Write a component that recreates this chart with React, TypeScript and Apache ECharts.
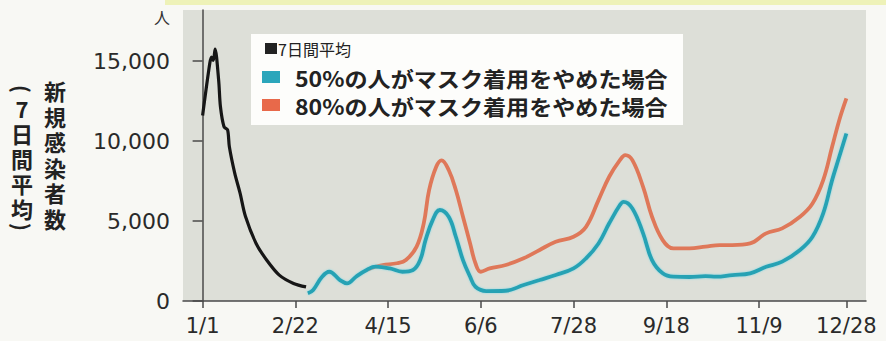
import React, { useEffect, useRef } from "react";
import * as echarts from "echarts";

// x = days since 1/1
const tickDays = [0, 52, 104, 156, 208, 260, 312, 361];
const tickLabels = ["1/1", "2/22", "4/15", "6/6", "7/28", "9/18", "11/9", "12/28"];
const yTicks = [0, 5000, 10000, 15000];

const blackDays = [0, 4, 5, 6, 7, 9, 10, 12, 14, 15, 18, 21, 24, 30, 36, 43, 51, 58];
const blackValues = [11600, 14850, 15250, 15050, 15750, 13800, 12150, 10900, 10700, 9650, 8000, 6750, 5300, 3600, 2550, 1620, 1100, 880];

const blueDays = [59, 62, 67, 71, 77, 81, 86, 92, 97, 105, 112, 118, 122, 125, 129, 133, 138, 142, 146, 150, 153, 159, 170, 180, 189, 198, 208, 215, 222, 228, 234, 236, 241, 247, 252, 258, 264, 273, 282, 288, 297, 307, 316, 325, 335, 342, 348, 353, 357, 361];
const blueValues = [480, 690, 1520, 1830, 1310, 1100, 1520, 1940, 2145, 2040, 1830, 1940, 2560, 3810, 5060, 5690, 5270, 4020, 2560, 1520, 890, 620, 640, 1000, 1310, 1625, 2040, 2670, 3600, 4860, 6000, 6200, 5790, 4230, 2560, 1730, 1520, 1500, 1560, 1520, 1625, 1730, 2140, 2460, 3190, 4020, 5480, 7560, 9020, 10480];

const orangeDays = [92, 97, 101, 109, 114, 120, 124, 127, 131, 134, 138, 142, 146, 150, 153, 156, 161, 170, 180, 189, 198, 208, 215, 222, 228, 234, 237, 241, 247, 252, 258, 264, 273, 282, 290, 297, 307, 316, 325, 335, 342, 348, 353, 357, 361];
const orangeValues = [1940, 2145, 2250, 2360, 2560, 3400, 4860, 6940, 8400, 8800, 8190, 6940, 5270, 3600, 2360, 1830, 2040, 2250, 2670, 3190, 3710, 4020, 4640, 6310, 7770, 8810, 9125, 8810, 7140, 5270, 3810, 3290, 3290, 3400, 3500, 3500, 3600, 4230, 4540, 5270, 6100, 7560, 9640, 11310, 12670];

const legendNames = ["7日間平均", "50%の人がマスク着用をやめた場合", "80%の人がマスク着用をやめた場合"];
const yTitle = ["新", "規", "感", "染", "者", "数"];
const yTitle2 = ["7", "日", "間", "平", "均"];

const pairs = (d: number[], v: number[]) => d.map((x, i) => [x, v[i]]);

const CJK = '"Noto Sans CJK JP", "Noto Sans", sans-serif';
const NUM = '"DejaVu Sans", sans-serif';

export default function App() {
  const ref = useRef<HTMLDivElement>(null);
  useEffect(() => {
    const chart = echarts.init(ref.current!, null, { renderer: "svg" });
    const titleStyle = {
      fontFamily: CJK, fontSize: 22, fontWeight: "bold", fill: "#222",
      align: "center", verticalAlign: "top", lineHeight: 25,
    };
    chart.setOption({
      animation: false,
      backgroundColor: "#f8f8f4",
      grid: {
        left: 183,
        right: 20,
        top: 10,
        bottom: 40,
        show: true,
        backgroundColor: "#dddfd8",
        borderWidth: 0,
      },
      xAxis: {
        type: "value",
        min: -11,
        max: 372,
        splitLine: { show: false },
        axisLine: { show: true, lineStyle: { color: "#4a4a4a", width: 1.5 } },
        axisTick: { show: true, length: 7, customValues: tickDays, lineStyle: { color: "#4a4a4a", width: 1.5 } },
        axisLabel: {
          customValues: tickDays,
          margin: 14,
          fontFamily: NUM,
          fontSize: 21,
          color: "#2a2a2a",
          formatter: (v: number) => tickLabels[tickDays.indexOf(v)] ?? "",
        },
      },
      yAxis: {
        type: "value",
        min: 0,
        max: 18200,
        splitLine: { show: false },
        axisLine: { show: true, lineStyle: { color: "#4a4a4a", width: 1.5 } },
        axisTick: { show: true, length: 10, customValues: yTicks, lineStyle: { color: "#4a4a4a", width: 1.5 } },
        axisLabel: {
          customValues: yTicks,
          margin: 13,
          fontFamily: NUM,
          fontSize: 22,
          color: "#2a2a2a",
          formatter: (v: number) => v.toLocaleString("en-US"),
        },
      },
      graphic: [
        { type: "rect", z: 0, shape: { x: 165, y: 0, width: 721, height: 5 }, style: { fill: "#eef2b8" } },
        { type: "rect", z: 5, shape: { x: 251, y: 34, width: 432, height: 91 }, style: { fill: "#fdfdfb" } },
        { type: "rect", z: 6, shape: { x: 265, y: 43, width: 12, height: 11 }, style: { fill: "#222222" } },
        { type: "rect", z: 6, shape: { x: 262, y: 71, width: 18, height: 12 }, style: { fill: "#2ba6bb" } },
        { type: "rect", z: 6, shape: { x: 262, y: 99, width: 18, height: 12 }, style: { fill: "#e8694a" } },
        { type: "text", z: 6, x: 278, y: 49, style: { text: legendNames[0], fontFamily: CJK, fontSize: 16, fill: "#222", verticalAlign: "middle" } },
        { type: "text", z: 6, x: 295, y: 77, scaleX: 1.1, style: { text: legendNames[1], fontFamily: CJK, fontSize: 21, fontWeight: "bold", fill: "#222", verticalAlign: "middle" } },
        { type: "text", z: 6, x: 295, y: 105, scaleX: 1.1, style: { text: legendNames[2], fontFamily: CJK, fontSize: 21, fontWeight: "bold", fill: "#222", verticalAlign: "middle" } },
        { type: "text", z: 6, x: 162, y: 17, style: { text: "人", fontFamily: CJK, fontSize: 16, fill: "#333", align: "center", verticalAlign: "middle" } },
        { type: "text", z: 6, x: 55, y: 77.5, style: { ...titleStyle, text: yTitle.join("\n"), lineHeight: 25.5 } },
        { type: "text", z: 6, x: 22, y: 95, style: { ...titleStyle, text: yTitle2.join("\n") } },
        {
          type: "text", z: 6, x: 22, y: 89, rotation: -Math.PI / 2,
          style: { text: "(", fontFamily: CJK, fontSize: 21, fontWeight: "bold", fill: "#222", align: "center", verticalAlign: "middle" },
        },
        {
          type: "text", z: 6, x: 22, y: 227, rotation: -Math.PI / 2,
          style: { text: ")", fontFamily: CJK, fontSize: 21, fontWeight: "bold", fill: "#222", align: "center", verticalAlign: "middle" },
        },
      ],
      series: [
        {
          type: "line", data: pairs(blackDays, blackValues), showSymbol: false, smooth: 0.3, z: 3,
          lineStyle: { color: "#161616", width: 3.2 },
        },
        {
          type: "line", data: pairs(orangeDays, orangeValues), showSymbol: false, smooth: 0.4, z: 3,
          lineStyle: { color: "#df7859", width: 3.8 },
        },
        {
          type: "line", data: pairs(blueDays, blueValues), showSymbol: false, smooth: 0.4, z: 4,
          lineStyle: { color: "#27a2b4", width: 3.8, shadowColor: "rgba(110,215,230,0.8)", shadowBlur: 2 },
        },
      ],
    });
    return () => chart.dispose();
  }, []);
  return <div ref={ref} style={{ position: "fixed", left: 0, top: 0, width: 886, height: 341 }} />;
}
